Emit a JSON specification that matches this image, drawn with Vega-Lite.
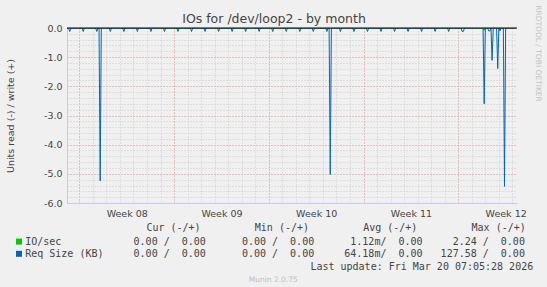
{
  "$schema": "https://vega.github.io/schema/vega-lite/v6.json",
  "width": 450,
  "height": 175,
  "autosize": {"type": "none"},
  "padding": {"left": 67, "top": 28, "right": 30, "bottom": 84},
  "background": "#F0F0F0",
  "data": {
    "values": [
      {"t": "2026-02-15T02:10Z", "v": 0, "s": "IO/sec"},
      {"t": "2026-03-17T20:00Z", "v": 0, "s": "IO/sec"},
      {"t": "2026-03-17T22:00Z", "v": -0.08, "s": "IO/sec"},
      {"t": "2026-03-18T00:00Z", "v": 0, "s": "IO/sec"},
      {"t": "2026-03-20T06:00Z", "v": 0, "s": "IO/sec"},

      {"t": "2026-02-15T02:10Z", "v": 0, "s": "Req Size (KB)"},
      {"t": "2026-02-15T05:00Z", "v": 0, "s": "Req Size (KB)"},
      {"t": "2026-02-15T07:00Z", "v": -0.12, "s": "Req Size (KB)"},
      {"t": "2026-02-15T09:00Z", "v": 0, "s": "Req Size (KB)"},
      {"t": "2026-02-16T05:00Z", "v": 0, "s": "Req Size (KB)"},
      {"t": "2026-02-16T07:00Z", "v": -0.12, "s": "Req Size (KB)"},
      {"t": "2026-02-16T09:00Z", "v": 0, "s": "Req Size (KB)"},
      {"t": "2026-02-17T05:00Z", "v": 0, "s": "Req Size (KB)"},
      {"t": "2026-02-17T07:00Z", "v": -0.12, "s": "Req Size (KB)"},
      {"t": "2026-02-17T09:00Z", "v": 0, "s": "Req Size (KB)"},
      {"t": "2026-02-17T11:00Z", "v": 0, "s": "Req Size (KB)"},
      {"t": "2026-02-17T13:00Z", "v": -5.24, "s": "Req Size (KB)"},
      {"t": "2026-02-17T15:00Z", "v": 0, "s": "Req Size (KB)"},
      {"t": "2026-02-18T05:00Z", "v": 0, "s": "Req Size (KB)"},
      {"t": "2026-02-18T07:00Z", "v": -0.12, "s": "Req Size (KB)"},
      {"t": "2026-02-18T09:00Z", "v": 0, "s": "Req Size (KB)"},
      {"t": "2026-02-19T05:00Z", "v": 0, "s": "Req Size (KB)"},
      {"t": "2026-02-19T07:00Z", "v": -0.12, "s": "Req Size (KB)"},
      {"t": "2026-02-19T09:00Z", "v": 0, "s": "Req Size (KB)"},
      {"t": "2026-02-20T05:00Z", "v": 0, "s": "Req Size (KB)"},
      {"t": "2026-02-20T07:00Z", "v": -0.12, "s": "Req Size (KB)"},
      {"t": "2026-02-20T09:00Z", "v": 0, "s": "Req Size (KB)"},
      {"t": "2026-02-21T05:00Z", "v": 0, "s": "Req Size (KB)"},
      {"t": "2026-02-21T07:00Z", "v": -0.12, "s": "Req Size (KB)"},
      {"t": "2026-02-21T09:00Z", "v": 0, "s": "Req Size (KB)"},
      {"t": "2026-02-22T05:00Z", "v": 0, "s": "Req Size (KB)"},
      {"t": "2026-02-22T07:00Z", "v": -0.12, "s": "Req Size (KB)"},
      {"t": "2026-02-22T09:00Z", "v": 0, "s": "Req Size (KB)"},
      {"t": "2026-02-23T05:00Z", "v": 0, "s": "Req Size (KB)"},
      {"t": "2026-02-23T07:00Z", "v": -0.12, "s": "Req Size (KB)"},
      {"t": "2026-02-23T09:00Z", "v": 0, "s": "Req Size (KB)"},
      {"t": "2026-02-24T05:00Z", "v": 0, "s": "Req Size (KB)"},
      {"t": "2026-02-24T07:00Z", "v": -0.12, "s": "Req Size (KB)"},
      {"t": "2026-02-24T09:00Z", "v": 0, "s": "Req Size (KB)"},
      {"t": "2026-02-25T05:00Z", "v": 0, "s": "Req Size (KB)"},
      {"t": "2026-02-25T07:00Z", "v": -0.12, "s": "Req Size (KB)"},
      {"t": "2026-02-25T09:00Z", "v": 0, "s": "Req Size (KB)"},
      {"t": "2026-02-26T05:00Z", "v": 0, "s": "Req Size (KB)"},
      {"t": "2026-02-26T07:00Z", "v": -0.12, "s": "Req Size (KB)"},
      {"t": "2026-02-26T09:00Z", "v": 0, "s": "Req Size (KB)"},
      {"t": "2026-02-27T05:00Z", "v": 0, "s": "Req Size (KB)"},
      {"t": "2026-02-27T07:00Z", "v": -0.12, "s": "Req Size (KB)"},
      {"t": "2026-02-27T09:00Z", "v": 0, "s": "Req Size (KB)"},
      {"t": "2026-02-28T05:00Z", "v": 0, "s": "Req Size (KB)"},
      {"t": "2026-02-28T07:00Z", "v": -0.12, "s": "Req Size (KB)"},
      {"t": "2026-02-28T09:00Z", "v": 0, "s": "Req Size (KB)"},
      {"t": "2026-03-01T05:00Z", "v": 0, "s": "Req Size (KB)"},
      {"t": "2026-03-01T07:00Z", "v": -0.12, "s": "Req Size (KB)"},
      {"t": "2026-03-01T09:00Z", "v": 0, "s": "Req Size (KB)"},
      {"t": "2026-03-02T05:00Z", "v": 0, "s": "Req Size (KB)"},
      {"t": "2026-03-02T07:00Z", "v": -0.12, "s": "Req Size (KB)"},
      {"t": "2026-03-02T09:00Z", "v": 0, "s": "Req Size (KB)"},
      {"t": "2026-03-03T05:00Z", "v": 0, "s": "Req Size (KB)"},
      {"t": "2026-03-03T07:00Z", "v": -0.12, "s": "Req Size (KB)"},
      {"t": "2026-03-03T09:00Z", "v": 0, "s": "Req Size (KB)"},
      {"t": "2026-03-04T05:00Z", "v": 0, "s": "Req Size (KB)"},
      {"t": "2026-03-04T07:00Z", "v": -0.12, "s": "Req Size (KB)"},
      {"t": "2026-03-04T09:00Z", "v": 0, "s": "Req Size (KB)"},
      {"t": "2026-03-05T05:00Z", "v": 0, "s": "Req Size (KB)"},
      {"t": "2026-03-05T07:00Z", "v": -0.12, "s": "Req Size (KB)"},
      {"t": "2026-03-05T09:00Z", "v": 0, "s": "Req Size (KB)"},
      {"t": "2026-03-06T05:00Z", "v": 0, "s": "Req Size (KB)"},
      {"t": "2026-03-06T07:00Z", "v": -0.12, "s": "Req Size (KB)"},
      {"t": "2026-03-06T09:00Z", "v": 0, "s": "Req Size (KB)"},
      {"t": "2026-03-06T11:00Z", "v": 0, "s": "Req Size (KB)"},
      {"t": "2026-03-06T13:00Z", "v": -5.02, "s": "Req Size (KB)"},
      {"t": "2026-03-06T15:00Z", "v": 0, "s": "Req Size (KB)"},
      {"t": "2026-03-07T05:00Z", "v": 0, "s": "Req Size (KB)"},
      {"t": "2026-03-07T07:00Z", "v": -0.12, "s": "Req Size (KB)"},
      {"t": "2026-03-07T09:00Z", "v": 0, "s": "Req Size (KB)"},
      {"t": "2026-03-08T05:00Z", "v": 0, "s": "Req Size (KB)"},
      {"t": "2026-03-08T07:00Z", "v": -0.12, "s": "Req Size (KB)"},
      {"t": "2026-03-08T09:00Z", "v": 0, "s": "Req Size (KB)"},
      {"t": "2026-03-09T05:00Z", "v": 0, "s": "Req Size (KB)"},
      {"t": "2026-03-09T07:00Z", "v": -0.12, "s": "Req Size (KB)"},
      {"t": "2026-03-09T09:00Z", "v": 0, "s": "Req Size (KB)"},
      {"t": "2026-03-10T05:00Z", "v": 0, "s": "Req Size (KB)"},
      {"t": "2026-03-10T07:00Z", "v": -0.12, "s": "Req Size (KB)"},
      {"t": "2026-03-10T09:00Z", "v": 0, "s": "Req Size (KB)"},
      {"t": "2026-03-11T05:00Z", "v": 0, "s": "Req Size (KB)"},
      {"t": "2026-03-11T07:00Z", "v": -0.12, "s": "Req Size (KB)"},
      {"t": "2026-03-11T09:00Z", "v": 0, "s": "Req Size (KB)"},
      {"t": "2026-03-12T05:00Z", "v": 0, "s": "Req Size (KB)"},
      {"t": "2026-03-12T07:00Z", "v": -0.12, "s": "Req Size (KB)"},
      {"t": "2026-03-12T09:00Z", "v": 0, "s": "Req Size (KB)"},
      {"t": "2026-03-13T05:00Z", "v": 0, "s": "Req Size (KB)"},
      {"t": "2026-03-13T07:00Z", "v": -0.12, "s": "Req Size (KB)"},
      {"t": "2026-03-13T09:00Z", "v": 0, "s": "Req Size (KB)"},
      {"t": "2026-03-14T05:00Z", "v": 0, "s": "Req Size (KB)"},
      {"t": "2026-03-14T07:00Z", "v": -0.12, "s": "Req Size (KB)"},
      {"t": "2026-03-14T09:00Z", "v": 0, "s": "Req Size (KB)"},
      {"t": "2026-03-15T05:00Z", "v": 0, "s": "Req Size (KB)"},
      {"t": "2026-03-15T07:00Z", "v": -0.12, "s": "Req Size (KB)"},
      {"t": "2026-03-15T09:00Z", "v": 0, "s": "Req Size (KB)"},
      {"t": "2026-03-16T05:00Z", "v": 0, "s": "Req Size (KB)"},
      {"t": "2026-03-16T07:00Z", "v": -0.12, "s": "Req Size (KB)"},
      {"t": "2026-03-16T09:00Z", "v": -0.12, "s": "Req Size (KB)"},
      {"t": "2026-03-16T11:00Z", "v": 0, "s": "Req Size (KB)"},
      {"t": "2026-03-17T20:00Z", "v": 0, "s": "Req Size (KB)"},
      {"t": "2026-03-17T22:00Z", "v": -2.6, "s": "Req Size (KB)"},
      {"t": "2026-03-18T00:00Z", "v": 0, "s": "Req Size (KB)"},
      {"t": "2026-03-18T04:00Z", "v": 0, "s": "Req Size (KB)"},
      {"t": "2026-03-18T06:00Z", "v": -0.1, "s": "Req Size (KB)"},
      {"t": "2026-03-18T08:00Z", "v": -0.1, "s": "Req Size (KB)"},
      {"t": "2026-03-18T10:00Z", "v": 0, "s": "Req Size (KB)"},
      {"t": "2026-03-18T12:00Z", "v": -1.11, "s": "Req Size (KB)"},
      {"t": "2026-03-18T14:00Z", "v": 0, "s": "Req Size (KB)"},
      {"t": "2026-03-18T20:00Z", "v": 0, "s": "Req Size (KB)"},
      {"t": "2026-03-18T22:00Z", "v": -1.39, "s": "Req Size (KB)"},
      {"t": "2026-03-19T00:00Z", "v": 0, "s": "Req Size (KB)"},
      {"t": "2026-03-19T02:00Z", "v": -0.1, "s": "Req Size (KB)"},
      {"t": "2026-03-19T04:00Z", "v": 0, "s": "Req Size (KB)"},
      {"t": "2026-03-19T08:00Z", "v": 0, "s": "Req Size (KB)"},
      {"t": "2026-03-19T10:00Z", "v": -5.43, "s": "Req Size (KB)"},
      {"t": "2026-03-19T12:00Z", "v": 0, "s": "Req Size (KB)"},
      {"t": "2026-03-20T06:00Z", "v": 0, "s": "Req Size (KB)"}
    ]
  },
  "layer": [
    {
      "transform": [{"filter": "datum.s == 'IO/sec'"}],
      "mark": {"type": "line", "strokeWidth": 1, "clip": true},
      "encoding": {
        "x": {
          "field": "t", "type": "temporal",
          "scale": {"type": "utc", "domain": [
            {"year": 2026, "month": 2, "date": 15, "hours": 2, "minutes": 10, "utc": true},
            {"year": 2026, "month": 3, "date": 20, "hours": 8, "minutes": 10, "utc": true}
          ]},
          "axis": {
            "orient": "top",
            "grid": true, "gridColor": "#cdcdcd", "gridDash": [1, 2], "gridWidth": 1,
            "tickCount": {"interval": "day", "step": 1},
            "labels": false, "ticks": false, "domain": false,
            "title": "IOs for /dev/loop2 - by month",
            "titleFont": "DejaVu Sans", "titleFontSize": 12.5, "titleFontWeight": "normal",
            "titleColor": "#444444", "titleX": 206.5, "titleY": -10,
            "titleAlign": "center", "titleBaseline": "middle"
          }
        },
        "y": {
          "field": "v", "type": "quantitative",
          "scale": {"domain": [-6, 0], "nice": false, "zero": false},
          "axis": {
            "orient": "left",
            "grid": true, "gridColor": "#cdcdcd", "gridDash": [1, 2], "gridWidth": 1,
            "tickCount": 30, "labels": false, "ticks": false, "domain": false,
            "title": "Munin 2.0.75", "titleAngle": 0,
            "titleFont": "DejaVu Sans", "titleFontSize": 7.5, "titleFontWeight": "normal",
            "titleColor": "#bdbdbd", "titleX": 205.8, "titleY": 251.9,
            "titleAlign": "center", "titleBaseline": "middle"
          }
        },
        "color": {
          "field": "s", "type": "nominal",
          "scale": {"domain": ["IO/sec", "Req Size (KB)"], "range": ["#00CC00", "#0066B3"]},
          "legend": {
            "orient": "none", "legendX": -53, "legendY": 195.3, "padding": 0,
            "title": "\u200b\u00a0\u00a0\u00a0\u00a0\u00a0\u00a0\u00a0\u00a0\u00a0\u00a0\u00a0\u00a0\u00a0\u00a0\u00a0\u00a0\u00a0\u00a0\u00a0\u00a0\u00a0\u00a0Cur\u00a0(-/+)\u00a0\u00a0\u00a0\u00a0\u00a0\u00a0\u00a0\u00a0\u00a0Min\u00a0(-/+)\u00a0\u00a0\u00a0\u00a0\u00a0\u00a0\u00a0\u00a0\u00a0Avg\u00a0(-/+)\u00a0\u00a0\u00a0\u00a0\u00a0\u00a0\u00a0\u00a0\u00a0Max\u00a0(-/+)",
            "titleFont": "DejaVu Sans Mono", "titleFontSize": 10, "titleFontWeight": "normal",
            "titleColor": "#444444", "titlePadding": 3.3, "titleLimit": 1000,
            "labelFont": "DejaVu Sans Mono", "labelFontSize": 10, "labelColor": "#444444",
            "labelOffset": 1.2, "labelLimit": 1000,
            "symbolType": "square", "symbolSize": 36, "symbolStrokeWidth": 0,
            "rowPadding": 2.2,
            "labelExpr": "datum.label == 'IO/sec' ? 'IO/sec\u00a0\u00a0\u00a0\u00a0\u00a0\u00a0\u00a0\u00a0\u00a0\u00a0\u00a0\u00a00.00\u00a0/\u00a0\u00a00.00\u00a0\u00a0\u00a0\u00a0\u00a0\u00a00.00\u00a0/\u00a0\u00a00.00\u00a0\u00a0\u00a0\u00a0\u00a0\u00a01.12m/\u00a0\u00a00.00\u00a0\u00a0\u00a0\u00a0\u00a02.24\u00a0/\u00a0\u00a00.00' : 'Req\u00a0Size\u00a0(KB)\u00a0\u00a0\u00a0\u00a0\u00a00.00\u00a0/\u00a0\u00a00.00\u00a0\u00a0\u00a0\u00a0\u00a0\u00a00.00\u00a0/\u00a0\u00a00.00\u00a0\u00a0\u00a0\u00a0\u00a064.18m/\u00a0\u00a00.00\u00a0\u00a0\u00a0127.58\u00a0/\u00a0\u00a00.00'",
            "encode": {"symbols": {"update": {"fill": {"scale": "color", "field": "value"}, "stroke": {"value": "transparent"}, "opacity": {"value": 1}}}}
          }
        }
      }
    },
    {
      "transform": [{"filter": "datum.s == 'Req Size (KB)'"}],
      "mark": {"type": "line", "strokeWidth": 1, "clip": true},
      "encoding": {
        "x": {
          "field": "t", "type": "temporal",
          "axis": {
            "orient": "bottom",
            "values": [
              {"year": 2026, "month": 2, "date": 16, "utc": true},
              {"year": 2026, "month": 2, "date": 23, "utc": true},
              {"year": 2026, "month": 3, "date": 2, "utc": true},
              {"year": 2026, "month": 3, "date": 9, "utc": true},
              {"year": 2026, "month": 3, "date": 16, "utc": true}
            ],
            "grid": true, "gridColor": "#e3a0a0", "gridDash": [1, 2], "gridWidth": 1,
            "domain": true, "domainColor": "#c8c8f0", "ticks": false,
            "labelExpr": "'Week ' + utcFormat(datum.value, '%V')",
            "labelOffset": 47.4, "labelFlush": false, "labelOverlap": false,
            "labelFont": "DejaVu Sans", "labelFontSize": 9.5, "labelColor": "#444444",
            "labelPadding": 5,
            "title": "Last update: Fri Mar 20 07:05:28 2026",
            "titleFont": "DejaVu Sans Mono", "titleFontSize": 10, "titleFontWeight": "normal",
            "titleColor": "#444444", "titleX": 465.7, "titleY": 63.3,
            "titleAlign": "right", "titleBaseline": "middle"
          }
        },
        "y": {
          "field": "v", "type": "quantitative",
          "axis": {
            "orient": "right", "grid": false, "labels": false, "ticks": false, "domain": false,
            "title": "RRDTOOL / TOBI OETIKER", "titleAngle": 90,
            "titleX": 20, "titleY": 25, "titleAlign": "center", "titleBaseline": "middle",
            "titleFont": "DejaVu Sans", "titleFontSize": 7.5, "titleFontWeight": "normal",
            "titleColor": "#c4c4c4"
          }
        },
        "color": {
          "field": "s", "type": "nominal",
          "scale": {"domain": ["IO/sec", "Req Size (KB)"], "range": ["#00CC00", "#0066B3"]}
        }
      }
    },
    {
      "data": {"values": [{"v": 0}]},
      "mark": {"type": "rule", "color": "#000000", "strokeWidth": 1},
      "encoding": {
        "y": {
          "field": "v", "type": "quantitative",
          "axis": {
            "orient": "left",
            "values": [-6, -5, -4, -3, -2, -1, 0],
            "grid": true, "gridColor": "#e3a0a0", "gridDash": [1, 2], "gridWidth": 1,
            "labelExpr": "(datum.value < 0 ? '-' : '') + format(abs(datum.value), '.1f')",
            "labelFont": "DejaVu Sans", "labelFontSize": 9.5, "labelColor": "#444444",
            "labelPadding": 5, "labelOverlap": false, "labelFlush": false,
            "ticks": false, "domain": true, "domainColor": "#c8c8f0",
            "title": "Units read (-) / write (+)",
            "titleFont": "DejaVu Sans", "titleFontSize": 9.5, "titleFontWeight": "normal",
            "titleColor": "#444444", "titleX": -56.5, "titleY": 87.5, "titleAngle": -90,
            "titleAlign": "center", "titleBaseline": "middle"
          }
        }
      }
    }
  ],
  "resolve": {"axis": {"x": "independent", "y": "independent"}},
  "config": {"view": {"stroke": null}}
}
